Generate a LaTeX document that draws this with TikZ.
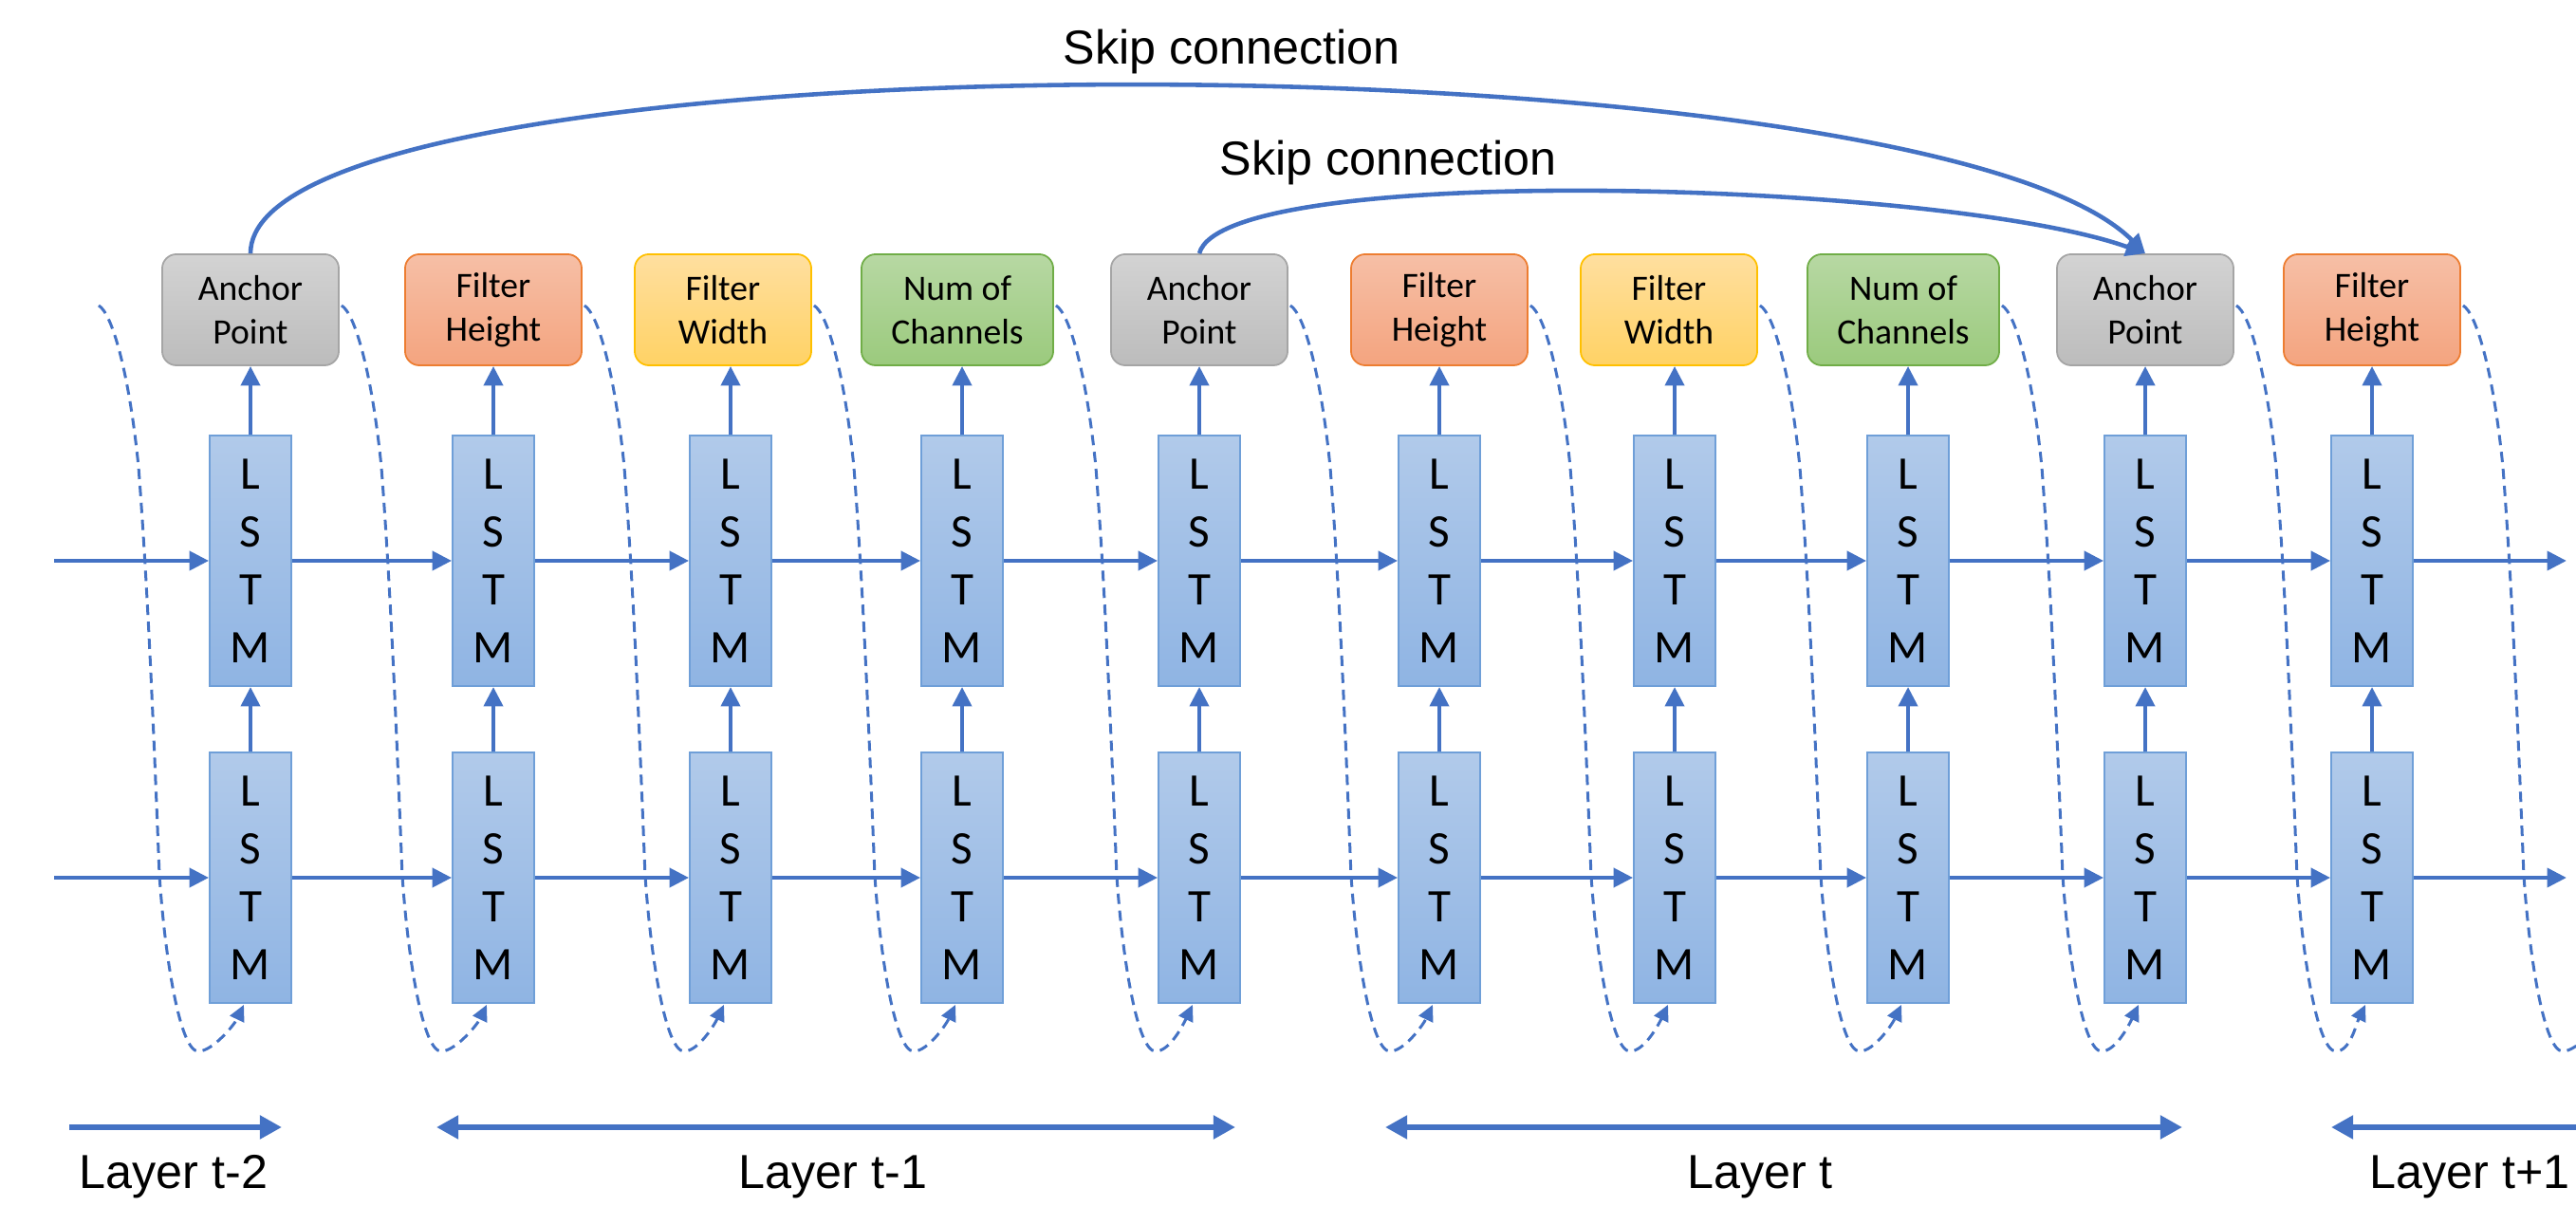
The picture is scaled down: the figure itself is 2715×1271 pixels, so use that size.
\documentclass[tikz,border=0pt]{standalone}
\usepackage{fontspec}
\setmainfont{Liberation Sans}
\newfontfamily\calibrilike{Carlito}
\usetikzlibrary{arrows.meta,calc}

\definecolor{linkblue}{HTML}{4472C4}
\definecolor{lstmtop}{HTML}{B1CAEA}
\definecolor{lstmbot}{HTML}{8FB4E3}
\definecolor{lstmedge}{HTML}{6F9FD8}
\definecolor{graytop}{HTML}{D3D3D3}
\definecolor{graybot}{HTML}{BCBCBC}
\definecolor{grayedge}{HTML}{A5A5A5}
\definecolor{salmontop}{HTML}{F6BFA6}
\definecolor{salmonbot}{HTML}{F4A47F}
\definecolor{salmonedge}{HTML}{ED7D31}
\definecolor{goldtop}{HTML}{FFDF9F}
\definecolor{goldbot}{HTML}{FFD265}
\definecolor{goldedge}{HTML}{FFC000}
\definecolor{greentop}{HTML}{B7D8A3}
\definecolor{greenbot}{HTML}{9BCA7D}
\definecolor{greenedge}{HTML}{70AD47}

\tikzset{
  smalltip/.tip={Triangle[length=5.8pt,width=5.6pt]},
  dashtip/.tip={Triangle[length=4.8pt,width=4.6pt]},
  bigtip/.tip={Triangle[length=6.6pt,width=6.8pt]},
  lstm/.style={draw=lstmedge, line width=0.5pt, top color=lstmtop, bottom color=lstmbot,
    minimum width=0.86cm, minimum height=2.64cm, inner sep=0pt, align=center,
    font=\calibrilike\fontsize{14}{17.4}\selectfont},
  param/.style={rounded corners=0.15cm, line width=0.5pt, minimum width=1.86cm,
    minimum height=1.17cm, inner sep=0pt, align=center,
    font=\calibrilike\fontsize{10.7}{13.1}\selectfont},
  anchorbox/.style={param, draw=grayedge, top color=graytop, bottom color=graybot},
  heightbox/.style={param, draw=salmonedge, top color=salmontop, bottom color=salmonbot},
  widthbox/.style={param, draw=goldedge, top color=goldtop, bottom color=goldbot},
  chanbox/.style={param, draw=greenedge, top color=greentop, bottom color=greenbot, minimum width=2.02cm},
  flow/.style={draw=linkblue, line width=1.3pt, -smalltip},
  skipline/.style={draw=linkblue, line width=1.3pt, -smalltip},
  feedback/.style={draw=linkblue, line width=0.85pt, dash pattern=on 3.1pt off 2pt, -dashtip},
  layerspan/.style={draw=linkblue, line width=1.9pt},
  labeltext/.style={font=\fontsize{14.3}{17}\selectfont, inner sep=0pt},
}

% dashed recurrent link: leaves a parameter box, drops past the two LSTM
% layers and hooks back up into the bottom of the next lower LSTM cell
\newcommand\feedbackloop[2]{%
  \draw[feedback] #1 .. controls +(14,8) and +(-10,-100) .. ++(42,170)
    .. controls +(10,130) and +(-6,-150) .. ++(22,430)
    .. controls +(6,90) and +(-19,0) .. ++(41,186)
    .. controls +(15,0) and +(-10,21) .. #2;}

\begin{document}
\begin{tikzpicture}[x=0.01cm,y=-0.01cm]
\useasboundingbox (0,0) rectangle (2715,1271);
\fill[white] (0,0) rectangle (2715,1271);
\clip (0,0) rectangle (2715,1271);

% two stacked LSTM layers
\foreach \i/\x in {1/264,2/520,3/770,4/1014,5/1264,6/1517,7/1765,8/2011,9/2261,10/2500}{
  \node[lstm] (u\i) at (\x,591) {L\\S\\T\\M};
  \node[lstm] (d\i) at (\x,925) {L\\S\\T\\M};
}

% predicted hyper-parameters
\node[anchorbox] (b1)  at (264,326.5)  {Anchor\\Point};
\node[heightbox] (b2)  at (520,326.5)  {Filter\\Height};
\node[widthbox]  (b3)  at (762,326.5)  {Filter\\Width};
\node[chanbox]   (b4)  at (1009,326.5) {Num of\\Channels};
\node[anchorbox] (b5)  at (1264,326.5) {Anchor\\Point};
\node[heightbox] (b6)  at (1517,326.5) {Filter\\Height};
\node[widthbox]  (b7)  at (1759,326.5) {Filter\\Width};
\node[chanbox]   (b8)  at (2006,326.5) {Num of\\Channels};
\node[anchorbox] (b9)  at (2261,326.5) {Anchor\\Point};
\node[heightbox] (b10) at (2500,326.5) {Filter\\Height};

% vertical flow
\foreach \i in {1,...,10}{
  \draw[flow] (u\i.north) -- (u\i.north |- b\i.south);
  \draw[flow] (d\i.north) -- (u\i.south);
}

% horizontal flow along each layer
\coordinate (inU) at (57,591);
\coordinate (inD) at (57,925);
\coordinate (outU) at (2705,591);
\coordinate (outD) at (2705,925);
\draw[flow] (inU) -- (u1.west);
\draw[flow] (inD) -- (d1.west);
\foreach \i [count=\j from 2] in {1,...,9}{
  \draw[flow] (u\i.east) -- (u\j.west);
  \draw[flow] (d\i.east) -- (d\j.west);
}
\draw[flow] (u10.east) -- (outU);
\draw[flow] (d10.east) -- (outD);

% dashed feedback from each prediction into the next step
\coordinate (s0) at (104,322);
\feedbackloop{(s0)}{($(d1.south)+(-7,1)$)}
\foreach \i [count=\j from 2] in {1,...,9}{
  \feedbackloop{($(b\i.east)+(2,-4.5)$)}{($(d\j.south)+(-7,1)$)}
}
\coordinate (offedge) at (2751,1058);
\feedbackloop{($(b10.east)+(2,-4.5)$)}{(offedge)}

% skip connections
\draw[skipline] (b1.north) .. controls +(0,-235) and +(-235,-235) .. (b9.north);
\draw[skipline] (b5.north) .. controls +(26,-98) and +(-211,-76) .. (b9.north);
\node[labeltext, anchor=base west] (sk1) at (1120,68) {Skip connection};
\node[labeltext, anchor=base west] (sk2) at (1285,185) {Skip connection};

% layer extents
\coordinate (p1) at (73,1188);   \coordinate (p2) at (297,1188);
\coordinate (p3) at (460,1188);  \coordinate (p4) at (1302,1188);
\coordinate (p5) at (1460,1188); \coordinate (p6) at (2300,1188);
\coordinate (p7) at (2740,1188); \coordinate (p8) at (2457,1188);
\draw[layerspan, -bigtip] (p1) -- (p2);
\draw[layerspan, bigtip-bigtip] (p3) -- (p4);
\draw[layerspan, bigtip-bigtip] (p5) -- (p6);
\draw[layerspan, -bigtip] (p7) -- (p8);

\node[labeltext, anchor=base] (lt2) at (183,1252) {Layer t-2};
\node[labeltext, anchor=base] (lt1) at (878,1252) {Layer t-1};
\node[labeltext, anchor=base] (lt0) at (1855,1252) {Layer t};
\node[labeltext, anchor=base west] (lt3) at (2497,1252) {Layer t+1};
\end{tikzpicture}
\end{document}
